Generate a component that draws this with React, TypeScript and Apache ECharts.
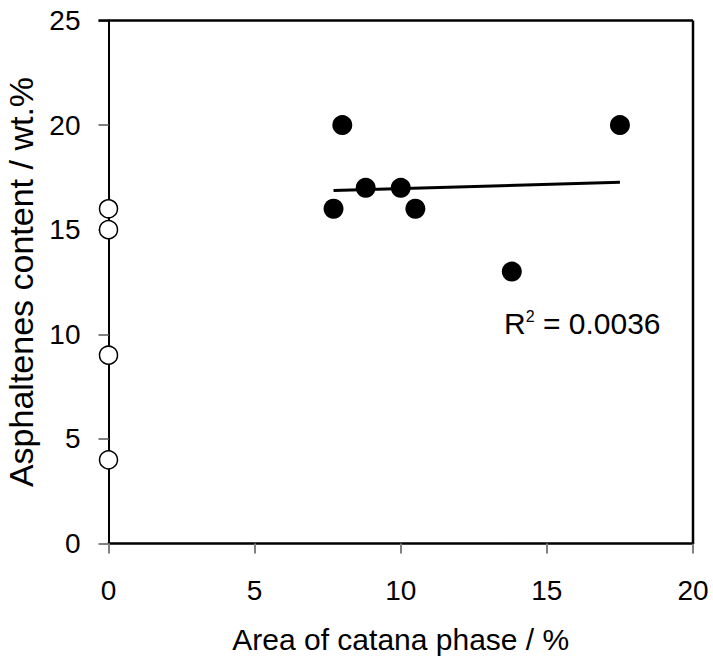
import React, { useEffect, useRef } from "react";
import * as echarts from "echarts";

const filledX = [7.7, 8.0, 8.8, 10.0, 10.5, 13.8, 17.5];
const filledY = [16, 20, 17, 17, 16, 13, 20];
const hollowX = [0, 0, 0, 0];
const hollowY = [16, 15, 9, 4];
const r2Label = "0.0036";

function regression(xs: number[], ys: number[]) {
  const n = xs.length;
  const mx = xs.reduce((a, b) => a + b, 0) / n;
  const my = ys.reduce((a, b) => a + b, 0) / n;
  let sxy = 0, sxx = 0;
  for (let i = 0; i < n; i++) {
    sxy += (xs[i] - mx) * (ys[i] - my);
    sxx += (xs[i] - mx) ** 2;
  }
  const slope = sxy / sxx;
  const icpt = my - slope * mx;
  const x0 = Math.min(...xs), x1 = Math.max(...xs);
  return [[x0, icpt + slope * x0], [x1, icpt + slope * x1]];
}

export default function App() {
  const ref = useRef<HTMLDivElement>(null);
  useEffect(() => {
    if (!ref.current) return;
    const chart = echarts.init(ref.current, undefined, { renderer: "svg" });
    const font = "Liberation Sans, Arial, sans-serif";
    const trend = regression(filledX, filledY);
    chart.setOption({
      animation: false,
      backgroundColor: "#fff",
      grid: {
        left: 108.5, right: 20, top: 20.5, bottom: 118.5,
        containLabel: false, outerBoundsMode: "none", show: false,
      },
      xAxis: {
        type: "value",
        min: 0, max: 20, interval: 5,
        name: "Area of catana phase / %",
        nameLocation: "middle",
        nameGap: 81,
        nameTextStyle: { fontFamily: font, fontSize: 30, color: "#000" },
        axisLine: { show: true, onZero: false, lineStyle: { color: "#000", width: 2.5 } },
        axisTick: { show: true, length: 10, lineStyle: { color: "#808080", width: 2 } },
        axisLabel: { fontFamily: font, fontSize: 28, color: "#000", margin: 33 },
        splitLine: { show: false },
      },
      yAxis: {
        type: "value",
        min: 0, max: 25, interval: 5,
        name: "Asphaltenes content / wt.%",
        nameLocation: "middle",
        nameGap: 63,
        nameTextStyle: { fontFamily: font, fontSize: 34, color: "#000" },
        axisLine: { show: true, onZero: false, lineStyle: { color: "#000", width: 2 } },
        axisTick: { show: true, length: 10, inside: false, lineStyle: { color: "#808080", width: 2 } },
        axisLabel: { fontFamily: font, fontSize: 28, color: "#000", margin: 28 },
        splitLine: { show: false },
      },
      series: [
        {
          type: "line",
          data: trend,
          symbol: "none",
          lineStyle: { color: "#000", width: 3 },
          z: 2,
        },
        {
          type: "scatter",
          data: filledX.map((x, i) => [x, filledY[i]]),
          symbol: "circle",
          symbolSize: 20,
          itemStyle: { color: "#000", opacity: 1 },
          z: 3,
        },
        {
          type: "scatter",
          clip: false,
          data: hollowX.map((x, i) => [x, hollowY[i]]),
          symbol: "circle",
          symbolSize: 18,
          itemStyle: { color: "#fff", borderColor: "#000", borderWidth: 1.5, opacity: 1 },
          z: 4,
        },
      ],
    });
    const p0 = chart.convertToPixel({ gridIndex: 0 }, [0, 25]) as number[];
    const p1 = chart.convertToPixel({ gridIndex: 0 }, [20, 0]) as number[];
    chart.setOption({
      graphic: [
        { id: "frameTop", type: "line", shape: { x1: p0[0] - 10, y1: p0[1], x2: p1[0], y2: p0[1] }, style: { stroke: "#000", lineWidth: 2.5 }, z: 10 },
        { id: "frameRight", type: "line", shape: { x1: p1[0], y1: p0[1], x2: p1[0], y2: p1[1] }, style: { stroke: "#000", lineWidth: 2.5 }, z: 10 },
        {
          id: "r2",
          type: "text",
          x: 504,
          y: 308,
          z: 20,
          style: {
            text: "R{sup|2} = " + r2Label,
            fontFamily: font,
            fontSize: 30,
            fill: "#000",
            rich: {
              sup: { fontFamily: font, fontSize: 16, fill: "#000", verticalAlign: "top" },
            },
          },
        },
      ],
    });
    return () => chart.dispose();
  }, []);
  return (
    <div
      ref={ref}
      style={{ position: "fixed", left: 0, top: 0, width: 713, height: 662 }}
    />
  );
}
